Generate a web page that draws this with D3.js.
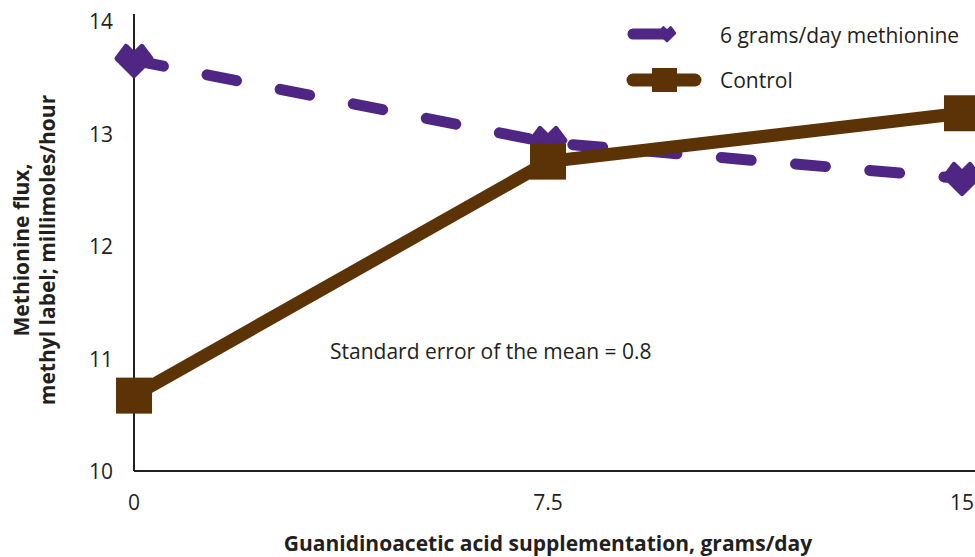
<!DOCTYPE html>
<html><head><meta charset="utf-8">
<script src="https://cdn.jsdelivr.net/npm/d3@7"></script>
<style>body{margin:0;background:#fff}svg{display:block}text{font-family:"Open Sans",sans-serif;fill:#231f20}</style>
</head><body><svg id="c" width="975" height="557"></svg>
<script>
const doses = [0, 7.5, 15];
const doseLabels = ["0", "7.5", "15"];
const methionine = [13.65, 12.92, 12.6];
const control = [10.67, 12.75, 13.18];
const yTicks = [10, 11, 12, 13, 14];
const seriesNames = ["6 grams/day methionine", "Control"];

const purple = "#4f2683", brown = "#5c3307";
const svg = d3.select("#c");
const x = d3.scaleLinear().domain([0, 15]).range([134, 962]);
const y = d3.scaleLinear().domain([10, 14]).range([471, 21]);
const fs = 21;

svg.append("line").attr("x1", x(0)).attr("x2", 975).attr("y1", y(10)).attr("y2", y(10)).attr("stroke", "#231f20").attr("stroke-width", 2);
svg.append("line").attr("x1", x(0)).attr("x2", x(0)).attr("y1", 14).attr("y2", y(10)).attr("stroke", "#231f20").attr("stroke-width", 2);

svg.selectAll(".yt").data(yTicks).join("text").attr("class", "yt")
  .attr("x", 113).attr("y", d => y(d) + 8).attr("text-anchor", "end").attr("font-size", fs).text(d => d);
svg.selectAll(".xt").data(doses).join("text").attr("class", "xt")
  .attr("x", d => x(d)).attr("y", 510).attr("text-anchor", "middle").attr("font-size", fs).text((d, i) => doseLabels[i]);

svg.append("text").attr("x", 548).attr("y", 551).attr("text-anchor", "middle").attr("font-size", fs).attr("font-weight", "bold")
  .text("Guanidinoacetic acid supplementation, grams/day");
const yt = svg.append("text").attr("transform", "translate(29,250) rotate(-90)").attr("text-anchor", "middle").attr("font-size", fs).attr("font-weight", "bold");
yt.append("tspan").attr("x", 0).attr("dy", 0).text("Methionine flux,");
yt.append("tspan").attr("x", 0).attr("dy", 26).text("methyl label; millimoles/hour");

svg.append("text").attr("x", 330).attr("y", 359).attr("font-size", fs).text("Standard error of the mean = 0.8");

const line = d3.line().x((d, i) => x(doses[i])).y(d => y(d));

svg.append("path").datum(methionine).attr("d", line).attr("fill", "none").attr("stroke", purple)
  .attr("stroke-width", 11).attr("stroke-linecap", "round").attr("stroke-dasharray", "30,44.5");
svg.append("path").datum(control).attr("d", line).attr("fill", "none").attr("stroke", brown).attr("stroke-width", 13);

function heart(s) {
  const p = [[-17,-2],[-8,-14],[0,-6],[8,-14],[17,-2],[0,15]].map(q => [q[0]*s, q[1]*s]);
  return "M" + p.map(q => q.join(",")).join("L") + "Z";
}
svg.selectAll(".mm").data(methionine).join("path").attr("class", "mm")
  .attr("transform", (d, i) => `translate(${x(doses[i])},${y(d)})`)
  .attr("d", heart(1)).attr("fill", purple).attr("stroke", purple).attr("stroke-width", 5).attr("stroke-linejoin", "round");
svg.selectAll(".cm").data(control).join("rect").attr("class", "cm")
  .attr("x", (d, i) => x(doses[i]) - 18).attr("y", d => y(d) - 18).attr("width", 36).attr("height", 36).attr("fill", brown);

const lg = svg.append("g");
lg.append("line").attr("x1", 633).attr("x2", 665).attr("y1", 34).attr("y2", 34).attr("stroke", purple).attr("stroke-width", 11).attr("stroke-linecap", "round");
lg.append("path").attr("transform", "translate(667,34)").attr("d", heart(0.45)).attr("fill", purple).attr("stroke", purple).attr("stroke-width", 3).attr("stroke-linejoin", "round");
lg.append("text").attr("x", 720).attr("y", 43).attr("font-size", fs).text(seriesNames[0]);
lg.append("line").attr("x1", 633).attr("x2", 695).attr("y1", 80).attr("y2", 80).attr("stroke", brown).attr("stroke-width", 13).attr("stroke-linecap", "round");
lg.append("rect").attr("x", 652).attr("y", 68).attr("width", 25).attr("height", 24).attr("fill", brown);
lg.append("text").attr("x", 720).attr("y", 88).attr("font-size", fs).text(seriesNames[1]);
</script></body></html>
